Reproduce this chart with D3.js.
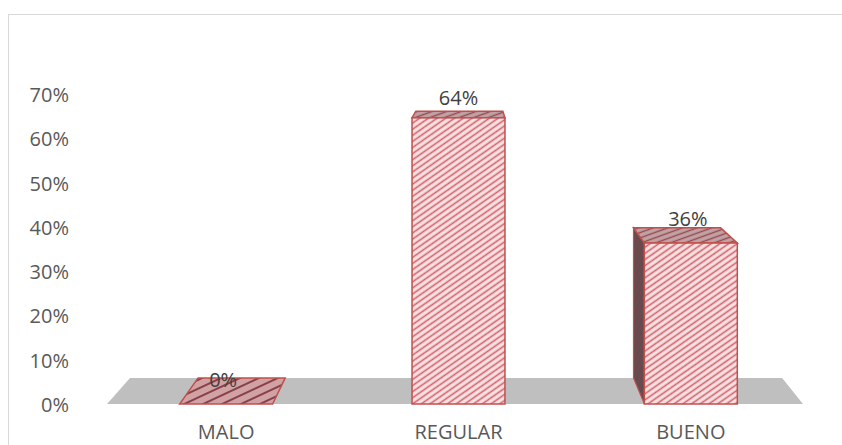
<!DOCTYPE html>
<html>
<head>
<meta charset="utf-8">
<script src="https://cdn.jsdelivr.net/npm/d3@7"></script>
<style>
  body { margin: 0; background: #fff; }
  svg { display: block; }
</style>
</head>
<body>
<div id="chart"></div>
<script>
// data
var categories = ["MALO", "REGULAR", "BUENO"];
var values = [0, 0.64, 0.36];
var valueLabels = ["0%", "64%", "36%"];
var tickValues = [0, 0.1, 0.2, 0.3, 0.4, 0.5, 0.6, 0.7];

var width = 842, height = 445;
var font = "'Open Sans', sans-serif";
var fontSize = 20;

var svg = d3.select("#chart").append("svg")
    .attr("width", width)
    .attr("height", height);

// chart border (only top and left visible in the picture)
svg.append("rect")
    .attr("x", 8.5).attr("y", 14.5)
    .attr("width", 860).attr("height", 460)
    .attr("fill", "none")
    .attr("stroke", "#d9d9d9");

// hatch patterns
var defs = svg.append("defs");
function hatch(id, bg, fg, size, angle, sw) {
    var p = defs.append("pattern")
        .attr("id", id)
        .attr("patternUnits", "userSpaceOnUse")
        .attr("width", size).attr("height", size)
        .attr("patternTransform", "rotate(" + angle + ")");
    p.append("rect").attr("width", size).attr("height", size).attr("fill", bg);
    p.append("line")
        .attr("x1", 0).attr("y1", size / 2).attr("x2", size).attr("y2", size / 2)
        .attr("stroke", fg).attr("stroke-width", sw);
}
hatch("front", "#fbe3e3", "#d0606b", 5, -35, 1.6);
hatch("top", "#c2a2a4", "#944852", 5, -20, 1.4);
hatch("side", "#5a5050", "#8e3c46", 4, -70, 1.2);
hatch("flat", "#d0a2a4", "#8a404b", 8, -25, 2);

// scales
var x = d3.scalePoint()
    .domain(categories)
    .range([110, 807])
    .padding(0.5);
var barW = x.step() * 0.4;

var yBar = d3.scaleLinear().domain([0, 0.7]).range([404, 91]);
var yTick = d3.scaleLinear().domain([0, 0.7]).range([405, 95]);

// simple perspective: back points pulled toward a vanishing point
var vx = 472, vy = 20, kx = 0.063, ky = 0.068;
function back(p) {
    return [p[0] + kx * (vx - p[0]), p[1] + ky * (vy - p[1])];
}
function pts(a) { return a.map(function (p) { return p.join(","); }).join(" "); }

// floor
var f0 = [107, yBar(0)], f1 = [803, yBar(0)];
svg.append("polygon")
    .attr("points", pts([f0, f1, back(f1), back(f0)]))
    .attr("fill", "#bfbfbf");

// y tick labels
svg.append("g").selectAll("text")
    .data(tickValues)
    .enter().append("text")
    .attr("x", 69)
    .attr("y", function (d) { return yTick(d); })
    .attr("dy", "0.35em")
    .attr("text-anchor", "end")
    .attr("font-family", font)
    .attr("font-size", fontSize)
    .attr("fill", "#595959")
    .text(function (d) { return d3.format(".0%")(d); });

// bars
var stroke = "#c0504d";
var bars = svg.append("g").selectAll("g")
    .data(categories)
    .enter().append("g");

bars.each(function (c, i) {
    var g = d3.select(this);
    var l = x(c) - barW / 2, r = x(c) + barW / 2;
    var b = yBar(0), t = yBar(values[i]);
    var fl = [l, t], fr = [r, t], bl = [l, b], br = [r, b];
    var flat = values[i] === 0;

    // side face visible when bar is off to one side of the vanishing point
    if (l > vx && !flat) {
        g.append("polygon")
            .attr("points", pts([fl, back(fl), back(bl), bl]))
            .attr("fill", "url(#side)")
            .attr("stroke", stroke).attr("stroke-width", 1.2);
    }
    if (r < vx && !flat) {
        g.append("polygon")
            .attr("points", pts([fr, back(fr), back(br), br]))
            .attr("fill", "url(#side)")
            .attr("stroke", stroke).attr("stroke-width", 1.2);
    }
    // top face
    g.append("polygon")
        .attr("points", pts([fl, fr, back(fr), back(fl)]))
        .attr("fill", flat ? "url(#flat)" : "url(#top)")
        .attr("stroke", stroke).attr("stroke-width", 1.5);
    // front face
    if (!flat) {
        g.append("rect")
            .attr("x", l).attr("y", t)
            .attr("width", r - l).attr("height", b - t)
            .attr("fill", "url(#front)")
            .attr("stroke", stroke).attr("stroke-width", 1.5);
    }
});

// value labels
svg.append("g").selectAll("text")
    .data(categories)
    .enter().append("text")
    .attr("x", function (c) { return x(c) + (c === "BUENO" ? -3 : c === "MALO" ? -3 : 0); })
    .attr("y", function (c, i) { return yBar(values[i]) - (i === 1 ? 13 : 17); })
    .attr("text-anchor", "middle")
    .attr("font-family", font)
    .attr("font-size", fontSize)
    .attr("fill", "#404040")
    .text(function (c, i) { return valueLabels[i]; });

// category labels
svg.append("g").selectAll("text")
    .data(categories)
    .enter().append("text")
    .attr("x", function (c) { return x(c); })
    .attr("y", 439)
    .attr("text-anchor", "middle")
    .attr("font-family", font)
    .attr("font-size", fontSize)
    .attr("fill", "#595959")
    .text(function (c) { return c; });
</script>
</body>
</html>
